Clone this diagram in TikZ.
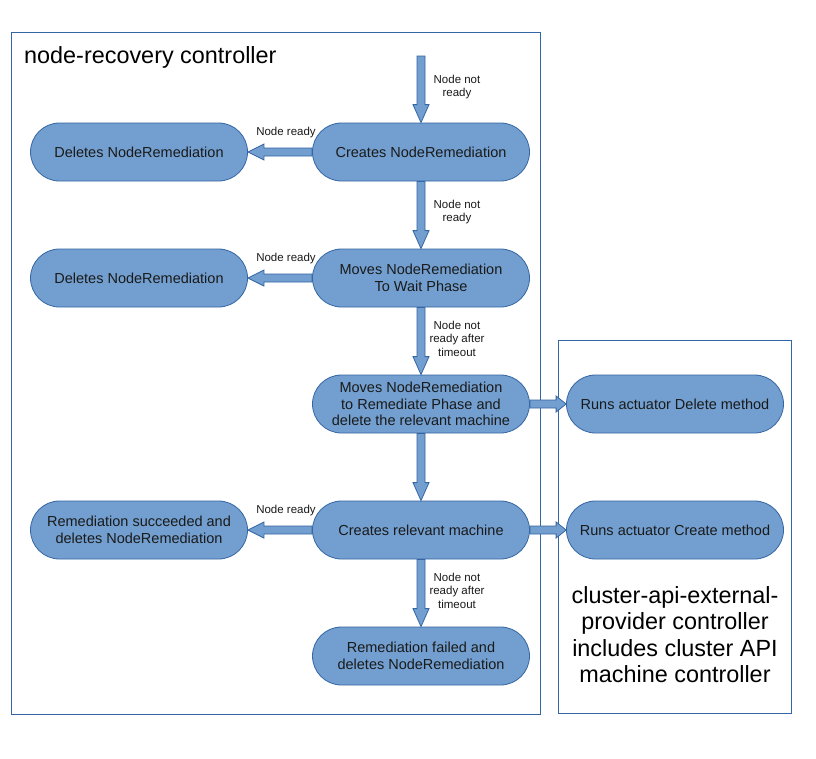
\documentclass[tikz,border=0pt]{standalone}
\usepackage{fontspec}
\setmainfont{Liberation Sans}
\usetikzlibrary{calc}
\definecolor{fillc}{HTML}{729FCF}
\definecolor{border}{HTML}{3465A4}
\definecolor{txt}{HTML}{1A1A1A}
\tikzset{
  proc/.style={draw=border, fill=fillc, rounded corners=29pt, minimum width=217pt, minimum height=58pt,
    align=center, font=\fontsize{14.5}{16.5}\selectfont, text=txt, inner sep=0pt, line width=0.8pt},
  lbl/.style={align=center, font=\fontsize{11.5}{13.5}\selectfont, text=txt, inner sep=0pt},
  barrow/.style={draw=border, fill=fillc, line width=0.8pt, line join=miter},
  frame/.style={draw=border, line width=0.8pt},
  big/.style={font=\fontsize{23.4}{26.5}\selectfont, text=black, inner sep=0pt}
}
\newcommand{\darrow}[2]{%
  \path[barrow] let \p1=(#1), \p2=(#2) in
    (\x1-4pt,\y1) -- (\x1-4pt,\y2+18pt) -- (\x1-8pt,\y2+18pt) -- (\x1,\y2) --
    (\x1+8pt,\y2+18pt) -- (\x1+4pt,\y2+18pt) -- (\x1+4pt,\y1) -- cycle;}
\newcommand{\larrow}[2]{%
  \path[barrow] let \p1=(#1), \p2=(#2) in
    (\x1,\y1+4pt) -- (\x2+16pt,\y1+4pt) -- (\x2+16pt,\y1+8pt) -- (\x2,\y1) --
    (\x2+16pt,\y1-8pt) -- (\x2+16pt,\y1-4pt) -- (\x1,\y1-4pt) -- cycle;}
\newcommand{\rarrow}[2]{%
  \path[barrow] let \p1=(#1), \p2=(#2) in
    (\x1,\y1+4pt) -- (\x2-10pt,\y1+4pt) -- (\x2-10pt,\y1+8pt) -- (\x2,\y1) --
    (\x2-10pt,\y1-8pt) -- (\x2-10pt,\y1-4pt) -- (\x1,\y1-4pt) -- cycle;}
\begin{document}
\begin{tikzpicture}[x=1pt,y=-1pt]
\useasboundingbox (0,0) rectangle (816,758);
\fill[white] (0,0) rectangle (816,758);
% frames
\node[frame, minimum width=529pt, minimum height=682pt, inner sep=0pt] (leftbox) at (275.5,373) {};
\node[frame, minimum width=233pt, minimum height=373pt, inner sep=0pt] (rightbox) at (674.5,526.5) {};
\node[big, anchor=base west] (title) at (24,63) {node-recovery controller};
\node[big, align=center] (ctext) at (675,634.5) {cluster-api-external-\\provider controller\\includes cluster API\\machine controller};
% nodes
\node[proc] (create) at (421,152) {Creates NodeRemediation};
\node[proc] (del1) at (139,152) {Deletes NodeRemediation};
\node[proc] (wait) at (421,278) {Moves NodeRemediation\\To Wait Phase};
\node[proc] (del2) at (139,278) {Deletes NodeRemediation};
\node[proc] (remed) at (421,404) {Moves NodeRemediation\\to Remediate Phase and\\delete the relevant machine};
\node[proc] (rdel) at (675,404) {Runs actuator Delete method};
\node[proc] (cmach) at (421,530) {Creates relevant machine};
\node[proc] (succ) at (139,530) {Remediation succeeded and\\deletes NodeRemediation};
\node[proc] (rcre) at (675,530) {Runs actuator Create method};
\node[proc] (fail) at (421,656) {Remediation failed and\\deletes NodeRemediation};
\coordinate (start) at (421,56);
% arrows
\darrow{start}{create.north}
\darrow{create.south}{wait.north}
\darrow{wait.south}{remed.north}
\darrow{remed.south}{cmach.north}
\darrow{cmach.south}{fail.north}
\larrow{create.west}{del1.east}
\larrow{wait.west}{del2.east}
\larrow{cmach.west}{succ.east}
\rarrow{remed.east}{rdel.west}
\rarrow{cmach.east}{rcre.west}
% labels
\node[lbl] (l1) at (457,87) {Node not\\ready};
\node[lbl] (l2) at (457,212) {Node not\\ready};
\node[lbl] (l3) at (457,338.5) {Node not\\ready after\\timeout};
\node[lbl] (l4) at (457,590.5) {Node not\\ready after\\timeout};
\node[lbl] (r1) at (286,132.5) {Node ready};
\node[lbl] (r2) at (286,258.5) {Node ready};
\node[lbl] (r3) at (286,510.5) {Node ready};
\end{tikzpicture}
\end{document}
